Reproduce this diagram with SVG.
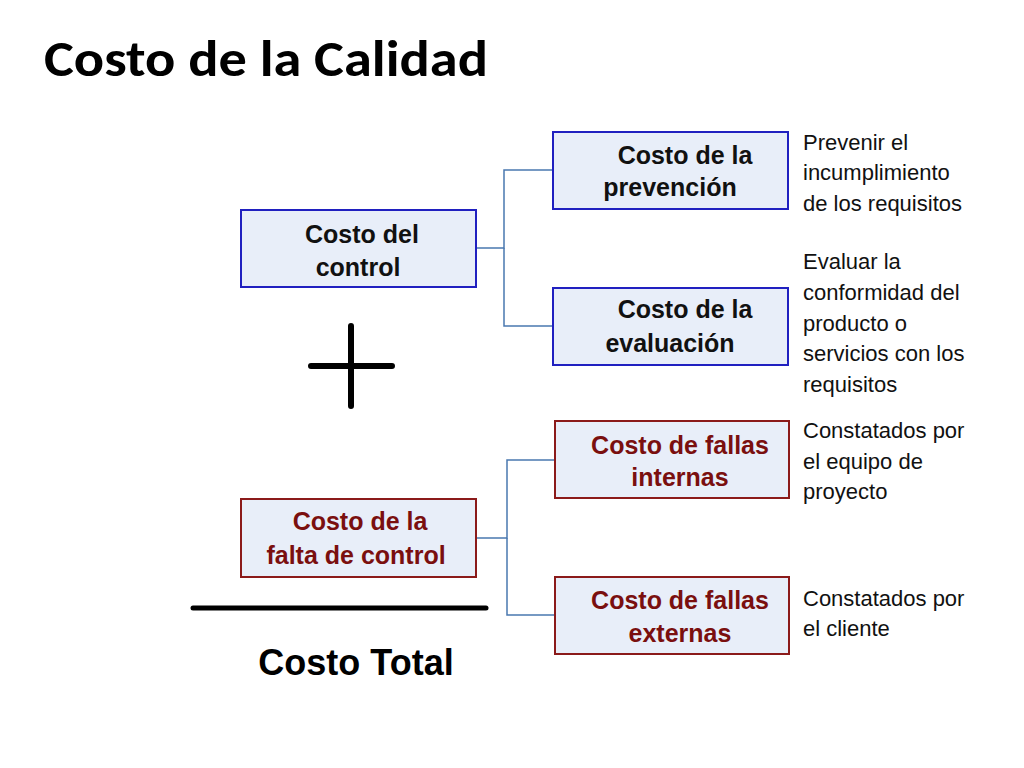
<svg xmlns="http://www.w3.org/2000/svg" width="1024" height="768" viewBox="0 0 1024 768">
<style>
.bb{fill:#e8eef9;stroke:#2020c0;stroke-width:2}
.rb{fill:#e8eef9;stroke:#8b1a1a;stroke-width:2}
.bt{font-family:"Liberation Sans",Arial,sans-serif;font-size:25px;font-weight:bold;fill:#111;text-anchor:middle}
.rt{font-family:"Liberation Sans",Arial,sans-serif;font-size:25px;font-weight:bold;fill:#7a0f0f;text-anchor:middle}
.side{font-family:"Liberation Sans",Arial,sans-serif;font-size:22px;fill:#111}
.c{fill:none;stroke:#4a78b0;stroke-width:1.5}
</style>
<rect width="1024" height="768" fill="#fff"/>
<text x="44" y="76" font-family="Calibri,'Liberation Sans',sans-serif" font-weight="bold" font-size="51" fill="#000" textLength="444" lengthAdjust="spacingAndGlyphs">Costo de la Calidad</text>
<g id="connectors">
<polyline class="c" points="476,248 504,248 504,170 553,170"/>
<polyline class="c" points="504,248 504,326 553,326"/>
<polyline class="c" points="476,538 507,538 507,460 555,460"/>
<polyline class="c" points="507,538 507,615 555,615"/>
</g>
<g id="control"><rect class="bb" x="241" y="210" width="235" height="77"/><text class="bt" x="362" y="243">Costo del</text><text class="bt" x="358" y="276">control</text></g>
<g id="prevencion"><rect class="bb" x="553" y="132" width="235" height="77"/><text class="bt" x="685" y="164">Costo de la</text><text class="bt" x="670" y="196">prevención</text></g>
<g id="evaluacion"><rect class="bb" x="553" y="288" width="235" height="77"/><text class="bt" x="685" y="318">Costo de la</text><text class="bt" x="670" y="352">evaluación</text></g>
<g id="faltacontrol"><rect class="rb" x="241" y="499" width="235" height="78"/><text class="rt" x="360" y="530">Costo de la</text><text class="rt" x="356" y="564">falta de control</text></g>
<g id="internas"><rect class="rb" x="555" y="421" width="234" height="77"/><text class="rt" x="680" y="454">Costo de fallas</text><text class="rt" x="680" y="486">internas</text></g>
<g id="externas"><rect class="rb" x="555" y="577" width="234" height="77"/><text class="rt" x="680" y="609">Costo de fallas</text><text class="rt" x="680" y="642">externas</text></g>
<path d="M351,326 V406 M311,366 H392" stroke="#000" stroke-width="6" stroke-linecap="round"/>
<line x1="193" y1="608" x2="486" y2="608" stroke="#000" stroke-width="5" stroke-linecap="round"/>
<text x="356" y="675" font-family="'Liberation Sans',Arial,sans-serif" font-weight="bold" font-size="36" fill="#000" text-anchor="middle">Costo Total</text>
<g class="side">
<text x="803" y="150">Prevenir el</text><text x="803" y="180">incumplimiento</text><text x="803" y="211">de los requisitos</text>
<text x="803" y="269">Evaluar la</text><text x="803" y="300">conformidad del</text><text x="803" y="331">producto o</text><text x="803" y="361">servicios con los</text><text x="803" y="392">requisitos</text>
<text x="803" y="438">Constatados por</text><text x="803" y="469">el equipo de</text><text x="803" y="499">proyecto</text>
<text x="803" y="606">Constatados por</text><text x="803" y="636">el cliente</text>
</g>
</svg>
